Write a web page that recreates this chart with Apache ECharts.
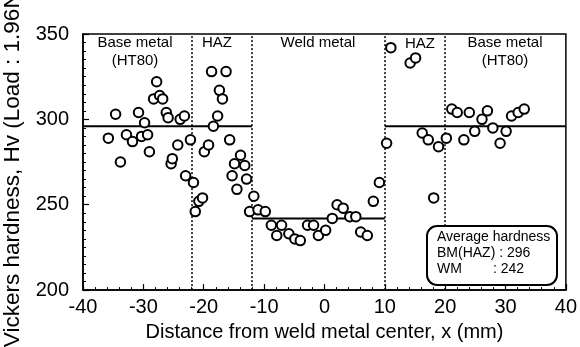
<!DOCTYPE html>
<html>
<head>
<meta charset="utf-8">
<script src="https://cdn.jsdelivr.net/npm/echarts@6/dist/echarts.min.js"></script>
<style>
html,body{margin:0;padding:0;background:#fff;}
#main{width:580px;height:347px;}
</style>
</head>
<body>
<div id="main"></div>
<script>
// distance from weld metal center (mm)
var distance = [
	-35.8, -34.6, -33.8, -32.8, -31.8, -30.8, -30.3, -29.8, -29.3, -29.0,
	-28.3, -27.8, -27.3, -26.8, -26.2, -25.9, -25.4, -25.2, -24.3, -23.9,
	-23.2, -23.0, -22.2, -21.7, -21.4, -20.8, -20.2, -19.9, -19.2, -18.7,
	-18.4, -17.7, -17.4, -16.9, -16.3, -15.7, -15.3, -14.9, -14.5, -13.9,
	-13.2, -12.9, -12.4, -11.7, -11.0, -9.8, -8.8, -7.9, -7.1, -5.9,
	-4.9, -4.0, -2.8, -1.8, -1.0, 0.2, 1.3, 2.1, 3.1, 4.2,
	5.2, 6.0, 7.1, 8.1, 9.1, 10.3, 11.0, 14.2, 15.1, 16.2,
	17.2, 18.1, 18.9, 20.2, 21.1, 22.0, 23.1, 24.0, 24.9, 26.1,
	27.0, 27.9, 29.1, 30.1, 31.0, 32.1, 33.1
];
// vickers hardness Hv
var hardness = [
	289, 303, 275, 291, 287, 304, 290, 298, 291, 281,
	312, 322, 314, 312, 304, 301, 274, 277, 285, 300,
	302, 267, 288, 263, 246, 252, 254, 281, 285, 328,
	296, 302, 317, 312, 328, 288, 267, 274, 259, 279,
	273, 265, 246, 255, 247, 246, 238, 232, 238, 233,
	230, 229, 238, 238, 232, 235, 242, 250, 248, 243,
	243, 234, 232, 252, 263, 286, 342, 333, 336, 292,
	288, 254, 284, 289, 306, 304, 288, 304, 293, 300,
	305, 295, 286, 293, 302, 304, 306
];
// zone borders (mm) and average hardness
var zoneBorders = [-22, -12, 10, 20];
var avgBM = 296;
var avgWM = 242;
var xTicks = [-40, -30, -20, -10, 0, 10, 20, 30, 40];

var FONT = '"Liberation Sans", Arial, sans-serif';

var chart = echarts.init(document.getElementById('main'));

function buildPoints(){
	var pts = [];
	for (var i = 0; i < distance.length; i++) {
		pts.push([distance[i], hardness[i]]);
	}
	return pts;
}

function avgLine(x0, x1, v){
	return {
		type: 'line',
		data: [[x0, v], [x1, v]],
		symbol: 'none',
		silent: true,
		lineStyle: {color: '#000', width: 2},
		z: 3
	};
}

function borderLines(){
	var d = [];
	for (var i = 0; i < zoneBorders.length; i++) {
		d.push({xAxis: zoneBorders[i]});
	}
	return d;
}

var series = [
	avgLine(-40, zoneBorders[1], avgBM),
	avgLine(zoneBorders[1], zoneBorders[2], avgWM),
	avgLine(zoneBorders[2], 40, avgBM),
	{
		type: 'scatter',
		data: buildPoints(),
		symbol: 'circle',
		symbolSize: 9.5,
		itemStyle: {color: '#fff', borderColor: '#000', borderWidth: 2, opacity: 1},
		z: 5,
		markLine: {
			silent: true,
			symbol: 'none',
			label: {show: false},
			lineStyle: {color: '#000', type: [2, 2], width: 1.5},
			data: borderLines()
		}
	}
];

// texts in the plot
function txt(x, y, s, size, align){
	return {
		type: 'text', x: x, y: y, z: 10,
		style: {text: s, fill: '#000', font: size + 'px ' + FONT, textAlign: align || 'center', textVerticalAlign: 'middle'}
	};
}

var graphics = [
	txt(135, 43, 'Base metal', 15), txt(135, 61, '(HT80)', 15),
	txt(217, 43, 'HAZ', 15),
	txt(318, 43, 'Weld metal', 15),
	txt(420, 44, 'HAZ', 15),
	txt(505, 43, 'Base metal', 15), txt(505, 61, '(HT80)', 15),
	{
		type: 'rect', z: 9,
		shape: {x: 427, y: 226, width: 130, height: 59, r: 10},
		style: {fill: '#fff', stroke: '#000', lineWidth: 2}
	},
	txt(437, 237, 'Average hardness', 14, 'left'),
	txt(437, 253, 'BM(HAZ) : ' + avgBM, 14, 'left'),
	txt(437, 269, 'WM', 14, 'left'),
	txt(493, 269, ': ' + avgWM, 14, 'left'),
	// y title, runs off the top like in the scan
	{
		type: 'text', x: 13, y: 166, rotation: Math.PI / 2, z: 10,
		style: {text: 'Vickers hardness, Hv (Load : 1.96N)', fill: '#000', font: '22.5px ' + FONT, textAlign: 'center', textVerticalAlign: 'middle'}
	}
];

var option = {
	animation: false,
	backgroundColor: '#fff',
	grid: {left: 83, right: 10, top: 34, bottom: 55, show: true, borderColor: '#000', borderWidth: 1.5, backgroundColor: 'transparent'},
	xAxis: {
		type: 'value', min: xTicks[0], max: xTicks[xTicks.length - 1], interval: 10,
		name: 'Distance from weld metal center, x (mm)',
		nameLocation: 'middle', nameGap: 31,
		nameTextStyle: {color: '#000', fontSize: 20, fontFamily: FONT},
		axisLine: {show: true, onZero: false, lineStyle: {color: '#000', width: 1.5}},
		axisTick: {inside: true, length: 6, lineStyle: {color: '#000', width: 1.2}},
		minorTick: {show: true, splitNumber: 5, length: 3, lineStyle: {color: '#000', width: 1}},
		axisLabel: {color: '#000', fontSize: 20, fontFamily: FONT, margin: 7},
		splitLine: {show: false}
	},
	yAxis: {
		type: 'value', min: 200, max: 350, interval: 50,
		axisLine: {show: true, onZero: false, lineStyle: {color: '#000', width: 1.5}},
		axisTick: {inside: true, length: 6, lineStyle: {color: '#000', width: 1.2}},
		minorTick: {show: true, splitNumber: 10, length: 3, lineStyle: {color: '#000', width: 1}},
		axisLabel: {color: '#000', fontSize: 20, fontFamily: FONT, margin: 14},
		splitLine: {show: false}
	},
	series: series,
	graphic: graphics
};

chart.setOption(option);
</script>
</body>
</html>
